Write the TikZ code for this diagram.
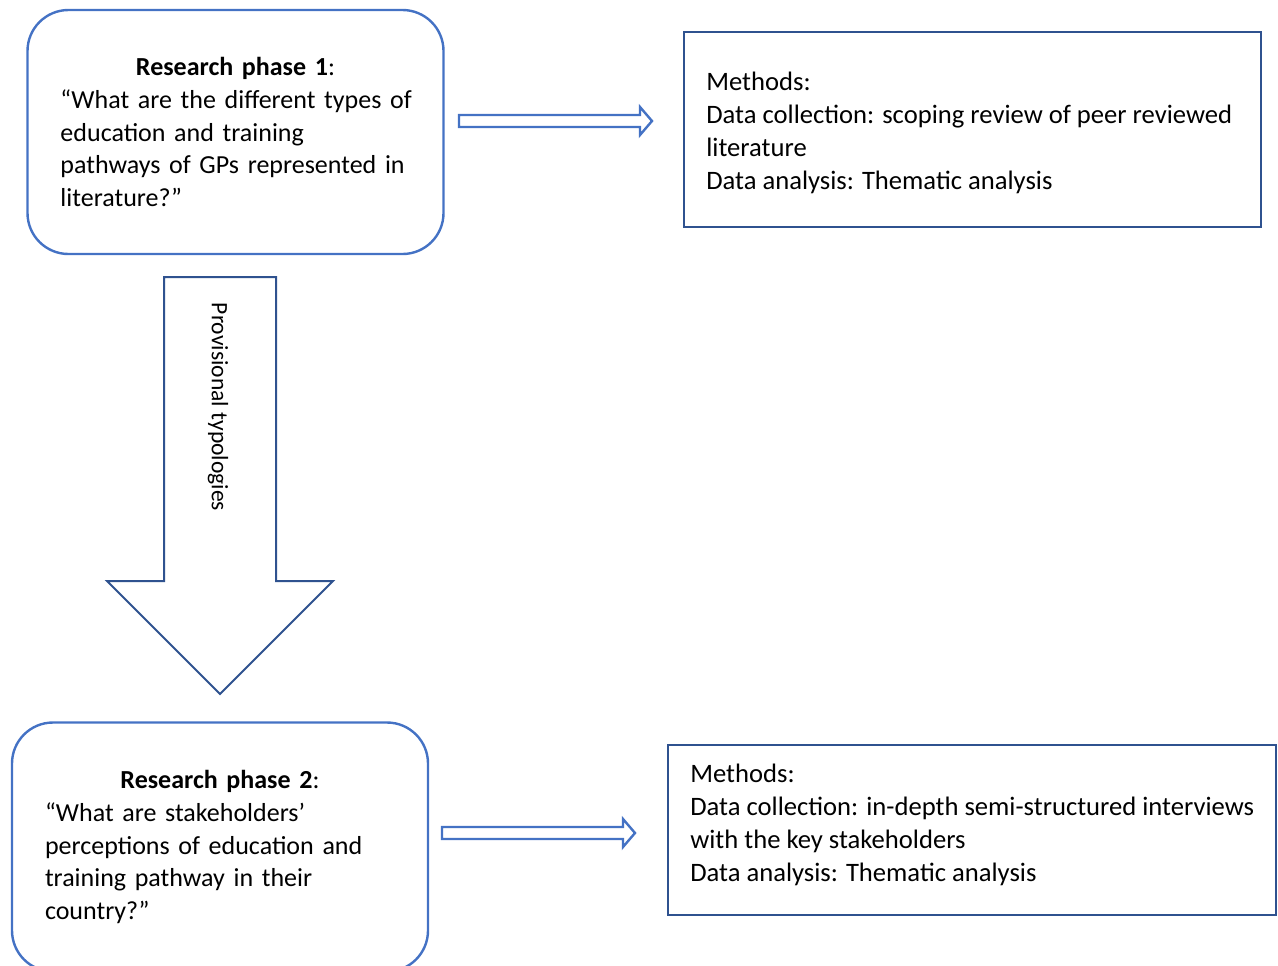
\documentclass[tikz,border=0pt]{standalone}
\usepackage{fontspec}
\setmainfont{Carlito}
\newlength\unitpx
\setlength\unitpx{0.02cm}
\definecolor{phaseblue}{HTML}{4472C4}
\definecolor{methodblue}{HTML}{2F528F}
\tikzset{
	pics/flatarrow/.style={code={
		\draw[draw=phaseblue, line width=2.4\unitpx, fill=white] (0,-6) -- (181,-6) -- (181,-14) -- (193,0) -- (181,14) -- (181,6) -- (0,6) -- cycle;
	}}
}
\begin{document}
\begin{tikzpicture}[x=\unitpx, y=-\unitpx,
		every node/.style={font=\fontsize{15.15}{18.75}\selectfont, inner sep=0pt},
		phasebox/.style={draw=phaseblue, line width=2.4\unitpx, rounded corners=41\unitpx, minimum width=416\unitpx, text width=350\unitpx, align=left, font=\fontsize{14.8}{18.75}\selectfont},
		methodbox/.style={draw=methodblue, line width=2\unitpx},
		bigarrow/.style={draw=methodblue, line width=2\unitpx, fill=white}]
	\useasboundingbox (0,0) rectangle (1278,965);
	\clip (0,0) rectangle (1278,965);

	% phase 1
	\node[phasebox, minimum height=244\unitpx] (phaseone) at (235.5,132) {\makebox[\hsize]{\textbf{Research phase 1}:}\\ \mbox{“What are the different types of}\\ education and training\\ \mbox{pathways of GPs represented in}\\ literature?”};
	\node[methodbox, minimum width=577\unitpx, minimum height=195\unitpx] (methodsone) at (972.5,129.5) {};
	\node[anchor=west, align=left] (methodsonetext) at (706,132.5) {Methods:\\ Data collection: scoping review of peer reviewed\\ literature\\ Data analysis: Thematic analysis};
	\pic at (459,121) {flatarrow};

	% provisional typologies
	\draw[bigarrow] (164,277) -- (276,277) -- (276,581) -- (333,581) -- (220,694) -- (107,581) -- (164,581) -- cycle;
	\node[rotate=-90, font=\fontsize{13.4}{16}\selectfont] (typologies) at (218,407) {Provisional typologies};

	% phase 2
	\node[phasebox, minimum height=249\unitpx] (phasetwo) at (220,847) {\makebox[\hsize]{\textbf{Research phase 2}:}\\ “What are stakeholders’\\ perceptions of education and\\ training pathway in their\\ country?”};
	\node[methodbox, minimum width=608\unitpx, minimum height=170\unitpx] (methodstwo) at (972,830) {};
	\node[anchor=west, align=left] (methodstwotext) at (690,824.5) {Methods:\\ Data collection: in-depth semi-structured interviews\\ with the key stakeholders\\ Data analysis: Thematic analysis};
	\pic at (442,833) {flatarrow};
\end{tikzpicture}
\end{document}
